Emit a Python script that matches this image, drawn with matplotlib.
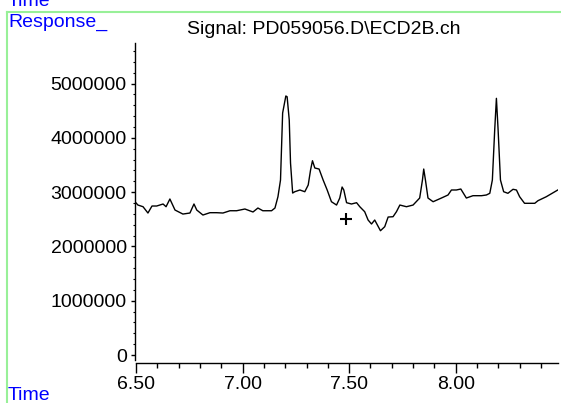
import matplotlib
matplotlib.use("Agg")
import matplotlib.pyplot as plt
from matplotlib.ticker import MultipleLocator, FuncFormatter
from matplotlib.lines import Line2D

plt.rcParams['font.family'] = ['Liberation Sans', 'DejaVu Sans']

# retention time (min)
time = [6.495, 6.509, 6.533, 6.556, 6.575, 6.597, 6.627, 6.641, 6.659, 6.683,
        6.720, 6.753, 6.772, 6.785, 6.814, 6.847, 6.878, 6.908, 6.941, 6.972,
        7.011, 7.049, 7.072, 7.095, 7.136, 7.152, 7.166, 7.178, 7.188, 7.203,
        7.209, 7.219, 7.225, 7.235, 7.245, 7.269, 7.292, 7.308, 7.319, 7.328,
        7.339, 7.359, 7.378, 7.397, 7.417, 7.441, 7.456, 7.467, 7.475, 7.488,
        7.511, 7.535, 7.550, 7.573, 7.589, 7.605, 7.620, 7.647, 7.667, 7.683,
        7.706, 7.722, 7.738, 7.769, 7.800, 7.831, 7.844, 7.850, 7.858, 7.870,
        7.894, 7.933, 7.964, 7.980, 8.003, 8.024, 8.050, 8.081, 8.121, 8.144,
        8.160, 8.172, 8.183, 8.191, 8.199, 8.210, 8.225, 8.245, 8.269, 8.285,
        8.300, 8.323, 8.371, 8.386, 8.425, 8.479]
# response (millions)
response_m = [2.823, 2.762, 2.731, 2.615, 2.744, 2.744, 2.781, 2.731, 2.873, 2.670,
              2.596, 2.615, 2.781, 2.670, 2.578, 2.621, 2.621, 2.615, 2.657, 2.657,
              2.689, 2.634, 2.707, 2.657, 2.657, 2.707, 2.915, 3.223, 4.457, 4.770,
              4.757, 4.328, 3.536, 2.983, 3.007, 3.039, 3.007, 3.131, 3.407, 3.578,
              3.444, 3.425, 3.223, 3.039, 2.823, 2.762, 2.891, 3.094, 3.039, 2.805,
              2.781, 2.805, 2.731, 2.639, 2.486, 2.413, 2.486, 2.289, 2.363, 2.541,
              2.547, 2.639, 2.762, 2.731, 2.762, 2.891, 3.223, 3.425, 3.223, 2.891,
              2.823, 2.891, 2.947, 3.039, 3.039, 3.057, 2.891, 2.934, 2.934, 2.947,
              2.978, 3.223, 4.144, 4.727, 4.144, 3.223, 3.007, 2.978, 3.052, 3.039,
              2.915, 2.794, 2.794, 2.842, 2.915, 3.039]
response = [v * 1e6 for v in response_m]

marker_time = [7.484]
marker_resp = [2.50e6]

x_ticks = [6.50, 7.00, 7.50, 8.00]
x_labels = ["6.50", "7.00", "7.50", "8.00"]
y_ticks = [0, 1000000, 2000000, 3000000, 4000000, 5000000]

W, H = 561, 403
fig = plt.figure(figsize=(W / 100, H / 100), dpi=100)
fig.patch.set_facecolor('white')

ax = fig.add_axes([135 / W, 1 - 363 / H, (558 - 135) / W, (363 - 43) / H])
ax.plot(time, response, color='black', lw=1.0)
ax.plot(marker_time, marker_resp, marker='+', color='black', ms=9, mew=1.5, ls='none')

ax.set_xlim(6.4953, 8.48)
ax.set_ylim(-0.147e6, 5.746e6)

for s in ['top', 'right']:
    ax.spines[s].set_visible(False)
ax.spines['bottom'].set_bounds(6.50, 8.48)
ax.spines['left'].set_bounds(-0.09e6, 5.746e6)
ax.spines['bottom'].set_linewidth(1.0)
ax.spines['left'].set_linewidth(1.0)

ax.set_xticks(x_ticks)
ax.set_xticklabels(x_labels)
ax.xaxis.set_minor_locator(MultipleLocator(0.1))
ax.set_yticks(y_ticks)
ax.yaxis.set_major_formatter(FuncFormatter(lambda v, p: "%d" % v))
ax.yaxis.set_minor_locator(MultipleLocator(200000))

ax.tick_params(axis='x', which='major', direction='out', length=7.5, width=1, pad=2, labelsize=14)
ax.tick_params(axis='x', which='minor', direction='out', length=3.5, width=1)
ax.tick_params(axis='y', which='major', direction='out', length=3, width=1, pad=3, labelsize=14)
ax.tick_params(axis='y', which='minor', direction='out', length=1.5, width=0.8)

# green frame lines
green = '#98F098'
fig.add_artist(Line2D([7 / W, 7 / W], [0, 1 - 12 / H], color=green, lw=1.5, transform=fig.transFigure))
fig.add_artist(Line2D([7 / W, 1], [1 - 12 / H, 1 - 12 / H], color=green, lw=1.5, transform=fig.transFigure))

blue = '#0000FF'
fig.text(8 / W, 1 - 6 / H, "Time", color=blue, fontsize=14, ha='left', va='baseline')
fig.text(8 / W, 1 - 14 / H, "Response_", color=blue, fontsize=14, ha='left', va='top')
fig.text(8 / W, 1 - 400 / H, "Time", color=blue, fontsize=14, ha='left', va='baseline')
fig.text(323.5 / W, 1 - 30 / H, "Signal: PD059056.D\\ECD2B.ch", color='black', fontsize=14,
         ha='center', va='center')

fig.savefig("out.png", dpi=100, facecolor='white')
